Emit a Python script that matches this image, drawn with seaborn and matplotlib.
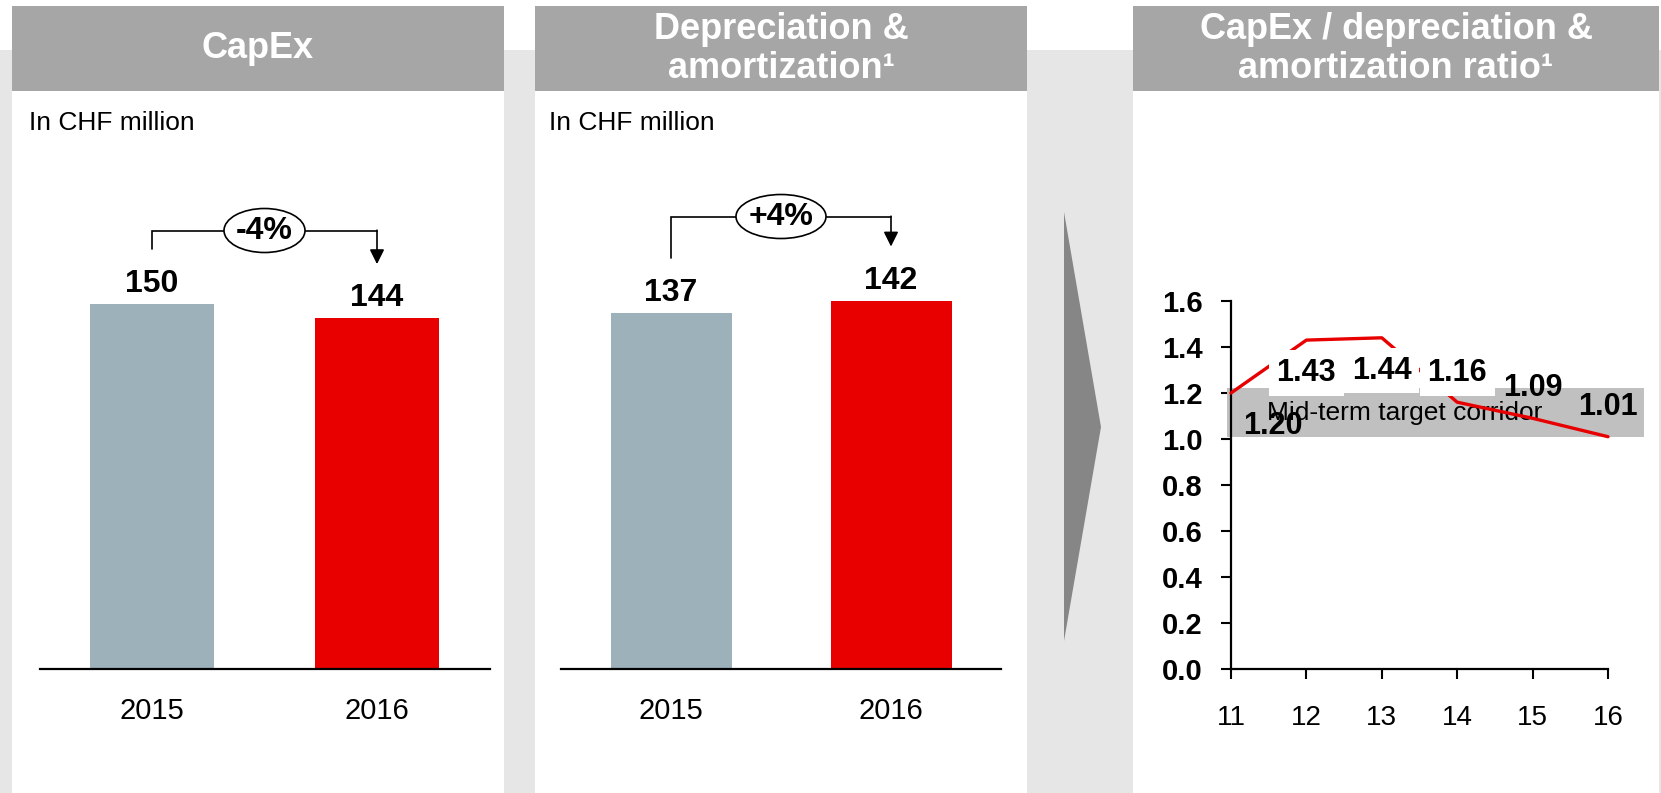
import matplotlib.pyplot as plt
import matplotlib.patches as mpatches
import seaborn as sns

W, H = 1661, 793

# ---- data ----
years = ["2015", "2016"]
capex = [150, 144]
dep_amort = [137, 142]
capex_change = "-4%"
dep_change = "+4%"

ratio_years = [11, 12, 13, 14, 15, 16]
ratio = [1.20, 1.43, 1.44, 1.16, 1.09, 1.01]
ratio_labels = ["1.20", "1.43", "1.44", "1.16", "1.09", "1.01"]
corridor = [1.01, 1.22]
ratio_ticks = [0.0, 0.2, 0.4, 0.6, 0.8, 1.0, 1.2, 1.4, 1.6]

titles = ["CapEx", "Depreciation &\namortization\u00b9", "CapEx / depreciation &\namortization ratio\u00b9"]
unit_label = "In CHF million"
corridor_label = "Mid-term target corridor"

# ---- style ----
GREY_BAR = "#9cb1b9"
RED = "#e80000"
HEADER = "#a6a6a6"
BG = "#e6e6e6"
CORRIDOR = "#c0c0c0"

sns.set_theme(style="white")
plt.rcParams["font.family"] = ["Liberation Sans", "DejaVu Sans"]

fig = plt.figure(figsize=(W / 100, H / 100), dpi=100)
fig.patch.set_facecolor("white")


def box(x0, y0, x1, y1):
    # pixel box (top-left origin) -> figure fraction [l, b, w, h]
    return [x0 / W, 1 - y1 / H, (x1 - x0) / W, (y1 - y0) / H]


def add_rect(x0, y0, x1, y1, color, z=-5):
    l, b, w, h = box(x0, y0, x1, y1)
    fig.add_artist(mpatches.Rectangle((l, b), w, h, transform=fig.transFigure,
                                      facecolor=color, lw=0, zorder=z))


# background + panels
add_rect(0, 50, W, H, BG, z=-10)
panels = [(12, 504), (535, 1027), (1133, 1659)]
for (x0, x1), title in zip(panels, titles):
    add_rect(x0, 91, x1, H, "white", z=-8)
    add_rect(x0, 6, x1, 91, HEADER, z=-8)
    fig.text((x0 + x1) / 2 / W, 1 - 49 / H, title, ha="center", va="center",
             color="white", fontsize=26, fontweight="bold", linespacing=1.15)

for x0 in (29, 549):
    fig.text(x0 / W, 1 - 123 / H, unit_label, ha="left", va="center", fontsize=19, color="black")

# chevron between panels
tri = [(1064 / W, 1 - 212 / H), (1101 / W, 1 - 427 / H), (1064 / W, 1 - 641 / H)]
fig.add_artist(mpatches.Polygon(tri, closed=True, transform=fig.transFigure,
                                facecolor="#868686", lw=0, zorder=-6))


def bar_panel(ax, values, change, ymax, rise, ell_w):
    sns.barplot(x=years, y=values, hue=years, palette=[GREY_BAR, RED], saturation=1,
                width=0.55, legend=False, linewidth=0, ax=ax)
    ax.set_xlim(-0.5, 1.5)
    ax.set_ylim(0, ymax)
    ax.set_facecolor("none")
    for s in ("left", "top", "right"):
        ax.spines[s].set_visible(False)
    ax.spines["bottom"].set_color("black")
    ax.spines["bottom"].set_linewidth(1.6)
    ax.set_yticks([])
    ax.set_xlabel("")
    ax.set_ylabel("")
    ax.tick_params(axis="x", length=0, pad=20, labelsize=21, labelcolor="black")

    h_px = ax.bbox.height
    dpp = ymax / h_px  # data units per pixel
    for i, v in enumerate(values):
        ax.text(i, v + 12 * dpp, str(v), ha="center", va="baseline",
                fontsize=23, fontweight="bold", color="black")

    # bracket with arrow and change bubble
    left_end = values[0] + 55 * dpp
    tip = values[1] + 54 * dpp
    top = max(values) + rise * dpp
    ax.plot([0, 0, 1], [left_end, top, top], color="black", lw=1.2, solid_joinstyle="miter")
    ax.annotate("", xy=(1, tip), xytext=(1, top + 0.3 * dpp),
                arrowprops=dict(arrowstyle="-|>", color="black", lw=1.2,
                                mutation_scale=22, shrinkA=0, shrinkB=0))
    w_data = ell_w / (ax.bbox.width / 2.0)
    ax.add_patch(mpatches.Ellipse((0.5, top), w_data, 44 * dpp, facecolor="white",
                                  edgecolor="black", lw=1.2, zorder=4))
    ax.text(0.5, top, change, ha="center", va="center", fontsize=23,
            fontweight="bold", color="black", zorder=5)


ax1 = fig.add_axes(box(39.5, 150, 489.5, 669))
ax2 = fig.add_axes(box(561, 150, 1001, 669))
bar_panel(ax1, capex, capex_change, 213, 73, 81)
bar_panel(ax2, dep_amort, dep_change, 200, 84, 90)

# ---- ratio panel ----
ax3 = fig.add_axes(box(1231, 301, 1608, 669))
ax3.set_facecolor("none")
span = ax3.axhspan(corridor[0], corridor[1], xmin=-0.01, xmax=1.095,
                   facecolor=CORRIDOR, lw=0, zorder=1)
span.set_clip_on(False)
ax3.text(13.3, sum(corridor) / 2, corridor_label, ha="center", va="center",
         fontsize=19, color="black", zorder=2)

sns.lineplot(x=ratio_years, y=ratio, color=RED, lw=2.4, ax=ax3, zorder=3)
for ln in ax3.lines:
    ln.set_clip_on(False)

label_offsets = [(42, -33), (0, -33), (0, -33), (0, 29), (0, 30), (0, 30)]
label_masked = [False, True, True, True, False, False]
for x, y, txt, off, masked in zip(ratio_years, ratio, ratio_labels, label_offsets, label_masked):
    bb = dict(boxstyle="square,pad=0.25", facecolor="white", lw=0) if masked else None
    ax3.annotate(txt, xy=(x, y), xytext=off, textcoords="offset pixels",
                 ha="center", va="center", fontsize=22, fontweight="bold",
                 color="black", bbox=bb, zorder=5, annotation_clip=False)

ax3.set_xlim(11, 16)
ax3.set_ylim(0, 1.6)
ax3.set_xticks(ratio_years)
ax3.set_xticklabels([str(y) for y in ratio_years])
ax3.set_yticks(ratio_ticks)
ax3.set_yticklabels([f"{t:.1f}" for t in ratio_ticks])
for s in ("top", "right"):
    ax3.spines[s].set_visible(False)
for s in ("left", "bottom"):
    ax3.spines[s].set_color("black")
    ax3.spines[s].set_linewidth(1.6)
ax3.tick_params(bottom=True, left=True, direction="out", length=7.5, width=1.5, color="black")
ax3.tick_params(axis="x", labelsize=20, pad=18.5, labelcolor="black")
ax3.tick_params(axis="y", labelsize=21, pad=13, labelcolor="black")
for lbl in ax3.get_yticklabels():
    lbl.set_fontweight("bold")
ax3.set_xlabel("")
ax3.set_ylabel("")

fig.savefig("out.png", dpi=100, facecolor=fig.get_facecolor())
